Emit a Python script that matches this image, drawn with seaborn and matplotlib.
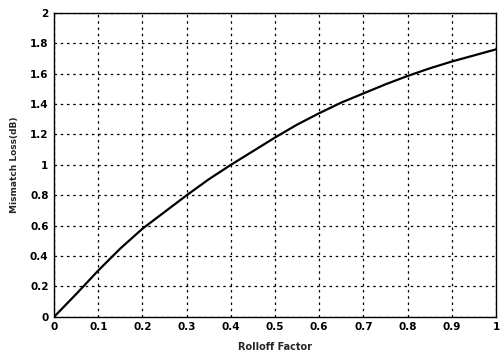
import matplotlib
matplotlib.use("Agg")
import matplotlib.pyplot as plt
import seaborn as sns
import pandas as pd

rolloff = [0.0, 0.05, 0.1, 0.15, 0.2, 0.25, 0.3, 0.35, 0.4, 0.45, 0.5,
           0.55, 0.6, 0.65, 0.7, 0.75, 0.8, 0.85, 0.9, 0.95, 1.0]
loss_db = [0.0, 0.15, 0.305, 0.45, 0.58, 0.69, 0.80, 0.905, 1.00, 1.09, 1.18,
           1.265, 1.34, 1.41, 1.47, 1.53, 1.585, 1.635, 1.68, 1.72, 1.76]
x_ticks = [0, 0.1, 0.2, 0.3, 0.4, 0.5, 0.6, 0.7, 0.8, 0.9, 1]
x_labels = ["0", "0.1", "0.2", "0.3", "0.4", "0.5", "0.6", "0.7", "0.8", "0.9", "1"]
y_ticks = [0, 0.2, 0.4, 0.6, 0.8, 1, 1.2, 1.4, 1.6, 1.8, 2]
y_labels = ["0", "0.2", "0.4", "0.6", "0.8", "1", "1.2", "1.4", "1.6", "1.8", "2"]

sns.set_theme(style="white")
plt.rcParams["font.family"] = ["DejaVu Sans"]

df = pd.DataFrame({"Rolloff Factor": rolloff, "Mismatch Loss(dB)": loss_db})

fig = plt.figure(figsize=(5.01, 3.58), dpi=100)
ax = fig.add_axes([0.108, 0.115, 0.882, 0.849])

sns.lineplot(data=df, x="Rolloff Factor", y="Mismatch Loss(dB)", ax=ax,
             color="black", linewidth=1.6)

ax.set_xlim(0, 1)
ax.set_ylim(0, 2)
ax.set_xticks(x_ticks)
ax.set_xticklabels(x_labels, fontsize=7.5, fontweight="bold")
ax.set_yticks(y_ticks)
ax.set_yticklabels(y_labels, fontsize=7.5, fontweight="bold")
ax.tick_params(direction="in", length=3, width=0.8, colors="black", pad=4)
ax.grid(True, color="black", linestyle=(0, (2, 3)), linewidth=0.9)
for s in ax.spines.values():
    s.set_color("black")
    s.set_linewidth(1.0)
ax.set_xlabel("Rolloff Factor", fontsize=7, fontweight="bold", labelpad=7)
ax.set_ylabel("Mismatch Loss(dB)", fontsize=6.5, fontweight="bold", labelpad=8)

fig.savefig("out.png", dpi=100, facecolor="white")
